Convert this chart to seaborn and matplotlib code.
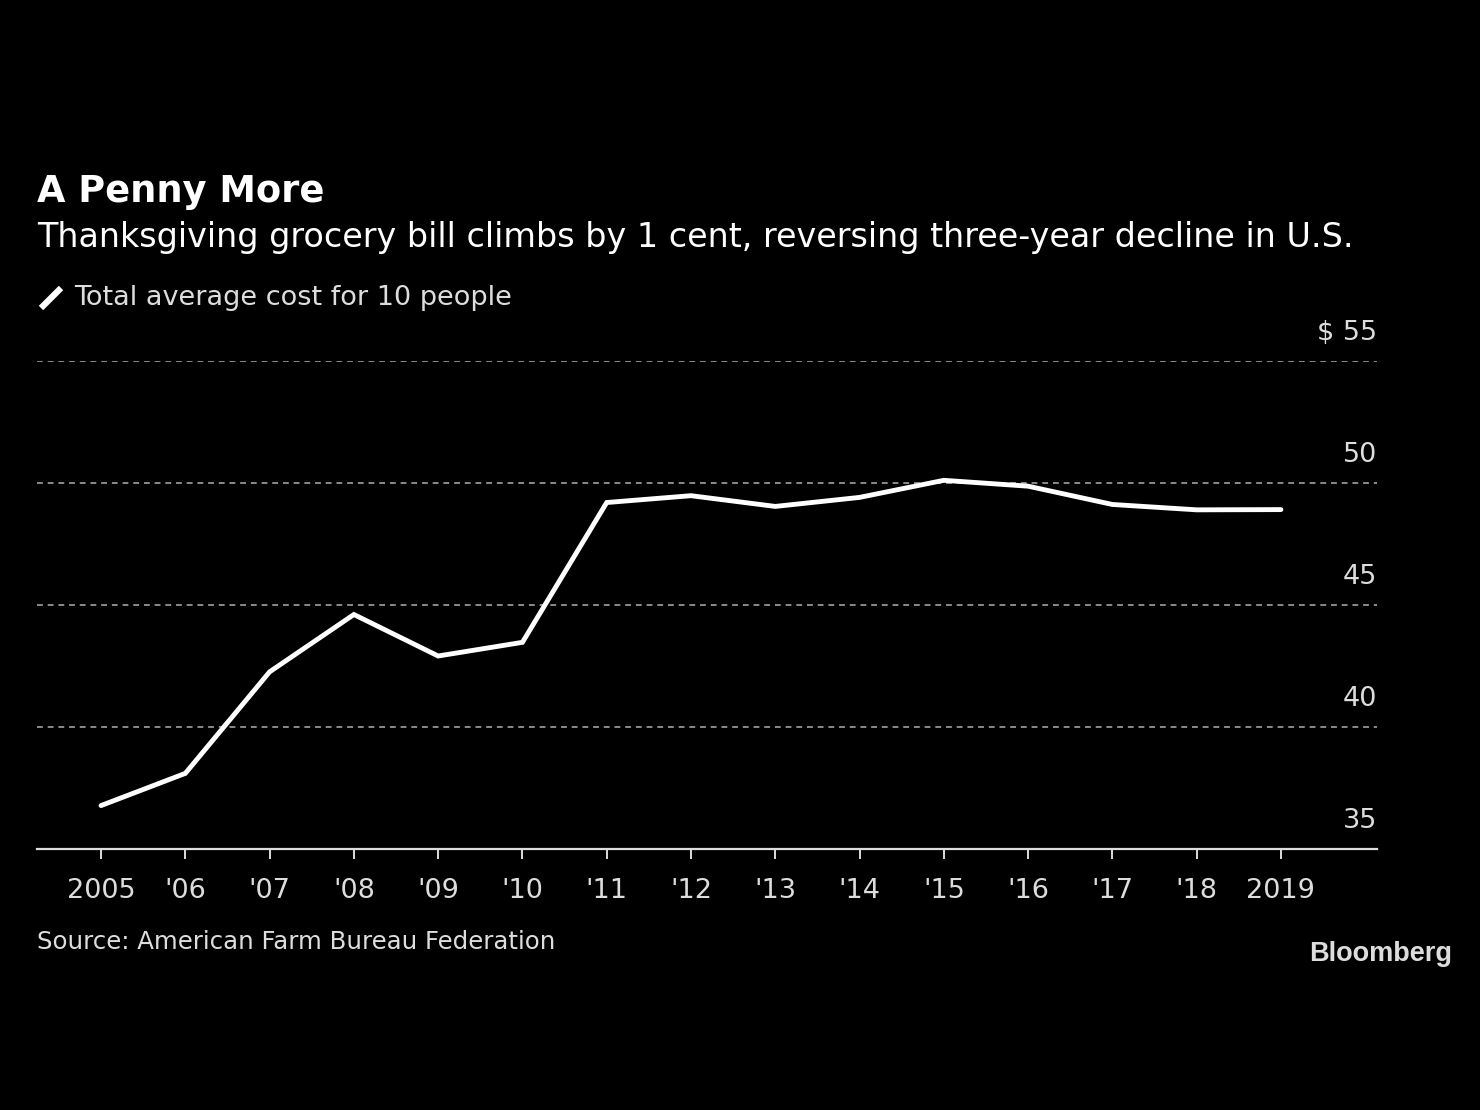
import matplotlib
matplotlib.use("Agg")
import matplotlib.pyplot as plt
import seaborn as sns
import pandas as pd
from matplotlib.lines import Line2D
import matplotlib.transforms as mtransforms

years = [2005, 2006, 2007, 2008, 2009, 2010, 2011, 2012, 2013, 2014, 2015, 2016, 2017, 2018, 2019]
cost = [36.78, 38.10, 42.26, 44.61, 42.91, 43.47, 49.20, 49.48, 49.04, 49.41, 50.11, 49.87, 49.12, 48.90, 48.91]
xtick_labels = ["2005", "'06", "'07", "'08", "'09", "'10", "'11", "'12", "'13", "'14", "'15", "'16", "'17", "'18", "2019"]
yticks = [35, 40, 45, 50, 55]
ytick_labels = ["35", "40", "45", "50", "$ 55"]

title = "A Penny More"
subtitle = "Thanksgiving grocery bill climbs by 1 cent, reversing three-year decline in U.S."
legend_label = "Total average cost for 10 people"
source = "Source: American Farm Bureau Federation"

sns.set_theme(style="dark")
plt.rcParams['font.family'] = ['DejaVu Sans']

W, H = 1480, 1110
fig = plt.figure(figsize=(W / 100, H / 100), dpi=100, facecolor="black")
ax = fig.add_axes([37 / W, (H - 849) / H, (1377 - 37) / W, (849 - 361) / H])
ax.set_facecolor("black")

df = pd.DataFrame({"year": years, "cost": cost})
sns.lineplot(data=df, x="year", y="cost", ax=ax, color="white", linewidth=3.5,
             solid_capstyle="round", solid_joinstyle="miter", zorder=5)

ax.set_xlim(2004.24, 2020.14)
ax.set_ylim(35, 55)
ax.set_xlabel("")
ax.set_ylabel("")

for s in ["top", "right", "left"]:
    ax.spines[s].set_visible(False)
ax.spines["bottom"].set_color("#dddddd")
ax.spines["bottom"].set_linewidth(1.6)

ax.set_xticks(years)
ax.set_xticklabels(xtick_labels, color="#dddddd", fontsize=19.5)
ax.tick_params(axis="x", length=7, width=1.4, color="#dddddd", pad=14, bottom=True)
ax.set_yticks([])
ax.grid(False)

for v in yticks[1:]:
    ax.axhline(v, color="#8a8a8a", linewidth=1.4, linestyle=(0, (3, 2.5)), zorder=1)

trans = mtransforms.blended_transform_factory(ax.transAxes, ax.transData)
for v, lab in zip(yticks, ytick_labels):
    ax.annotate(lab, xy=(1.0, v), xycoords=trans, xytext=(0, 15), textcoords="offset pixels",
                ha="right", va="bottom", color="#dddddd", fontsize=19.5)

fig.text(37 / W, 1 - 192 / H, title, color="white", fontsize=26.5, fontweight="bold",
         ha="left", va="center")
fig.text(37 / W, 1 - 237 / H, subtitle, color="white", fontsize=24,
         ha="left", va="center")
fig.add_artist(Line2D([41 / W, 61 / W], [1 - 308 / H, 1 - 288 / H], color="white",
                      linewidth=4.5, solid_capstyle="butt", transform=fig.transFigure))
fig.text(74 / W, 1 - 298 / H, legend_label, color="#dddddd", fontsize=19.5,
         ha="left", va="center")
fig.text(37 / W, 1 - 942 / H, source, color="#dddddd", fontsize=17.6,
         ha="left", va="center")
fig.text(1452 / W, 1 - 954 / H, "Bloomberg", color="#dddddd", fontsize=19.5,
         fontweight="bold", family=["Liberation Sans", "DejaVu Sans"], ha="right", va="center")

fig.savefig("out.png", dpi=100, facecolor="black")
